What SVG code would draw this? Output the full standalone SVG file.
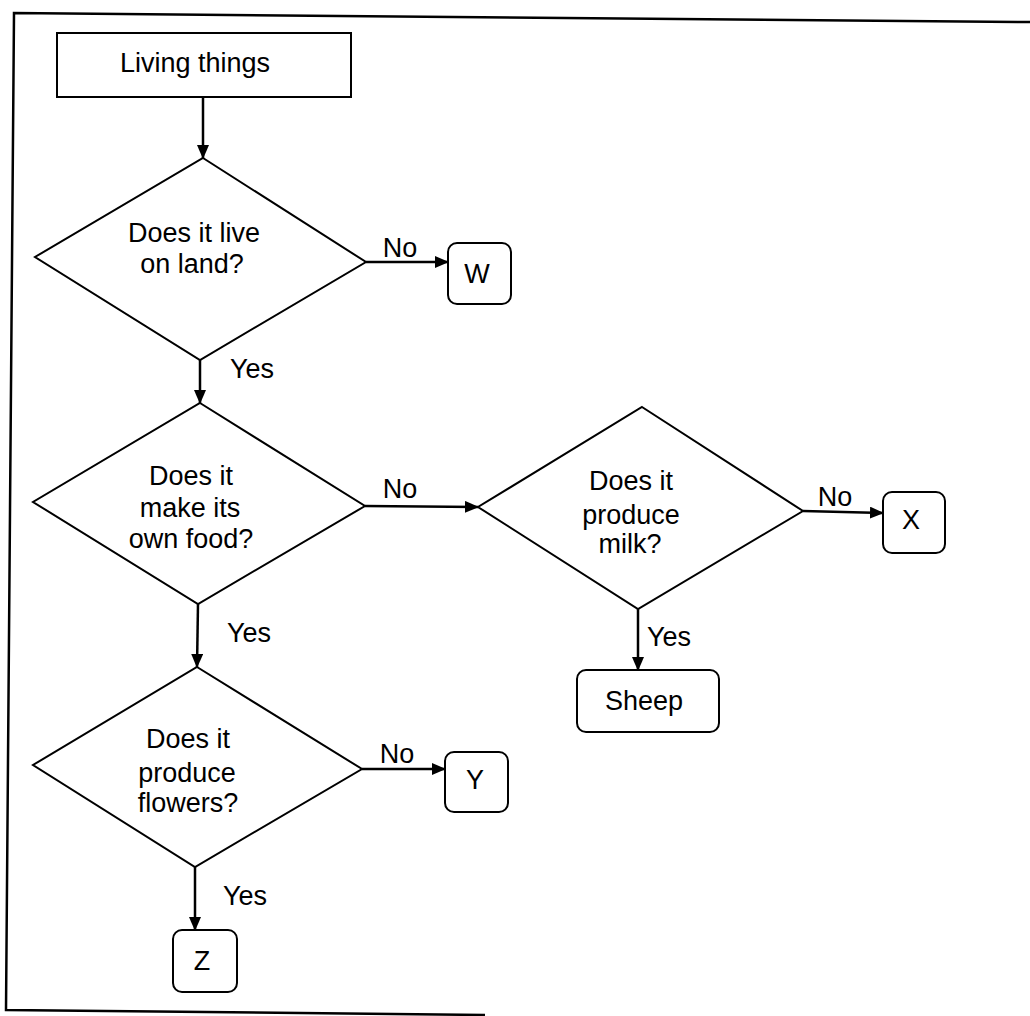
<svg xmlns="http://www.w3.org/2000/svg" width="1030" height="1016" viewBox="0 0 1030 1016">
<defs>
<marker id="arr" markerUnits="userSpaceOnUse" markerWidth="14" markerHeight="12" refX="13" refY="6" orient="auto">
<path d="M0,0 L14,6 L0,12 z" fill="#000"/>
</marker>
<style>
text{font-family:"Liberation Sans",Arial,sans-serif;font-size:27px;fill:#000}
.c{text-anchor:middle}
.shape{fill:#fff;stroke:#000;stroke-width:2}
.conn line{stroke:#000;stroke-width:2.5;marker-end:url(#arr)}
</style>
</defs>
<rect width="1030" height="1016" fill="#fff"/>
<path d="M485,1015 L6,1010 L14,13 L1030,22" fill="none" stroke="#000" stroke-width="2.5"/>
<g id="living">
<rect class="shape" x="57" y="33" width="294" height="64"/>
<text class="c" x="195" y="72">Living things</text>
</g>
<g id="q-land">
<polygon class="shape" points="203,158 366,262 200,360 35,257"/>
<text class="c" x="194" y="242">Does it live</text>
<text class="c" x="192" y="273">on land?</text>
</g>
<g id="w">
<rect class="shape" x="448" y="243" width="63" height="61" rx="9"/>
<text class="c" x="477" y="283">W</text>
</g>
<g id="q-food">
<polygon class="shape" points="200,403 365,506 198,604 33,502"/>
<text class="c" x="191" y="485">Does it</text>
<text class="c" x="190" y="517">make its</text>
<text class="c" x="191" y="548">own food?</text>
</g>
<g id="q-milk">
<polygon class="shape" points="642,407 803,511 638,609 478,507"/>
<text class="c" x="631" y="490">Does it</text>
<text class="c" x="631" y="524">produce</text>
<text class="c" x="630" y="553">milk?</text>
</g>
<g id="x">
<rect class="shape" x="883" y="492" width="62" height="61" rx="9"/>
<text class="c" x="911" y="529">X</text>
</g>
<g id="sheep">
<rect class="shape" x="577" y="670" width="142" height="62" rx="9"/>
<text class="c" x="644" y="710">Sheep</text>
</g>
<g id="q-flowers">
<polygon class="shape" points="197,667 362,769 195,867 33,765"/>
<text class="c" x="188" y="748">Does it</text>
<text class="c" x="187" y="782">produce</text>
<text class="c" x="188" y="812">flowers?</text>
</g>
<g id="y">
<rect class="shape" x="445" y="752" width="63" height="60" rx="9"/>
<text class="c" x="475" y="789">Y</text>
</g>
<g id="z">
<rect class="shape" x="173" y="930" width="64" height="62" rx="9"/>
<text class="c" x="202" y="970">Z</text>
</g>
<g id="connectors" class="conn">
<line x1="203" y1="97" x2="203" y2="158"/>
<line x1="366" y1="262" x2="448" y2="262"/>
<line x1="200" y1="360" x2="200" y2="403"/>
<line x1="365" y1="506" x2="478" y2="507"/>
<line x1="198" y1="604" x2="197" y2="667"/>
<line x1="803" y1="511" x2="883" y2="513"/>
<line x1="638" y1="609" x2="638" y2="670"/>
<line x1="362" y1="769" x2="445" y2="769"/>
<line x1="195" y1="867" x2="195" y2="930"/>
<text class="c" x="400" y="257">No</text>
<text x="230" y="378">Yes</text>
<text class="c" x="400" y="498">No</text>
<text x="227" y="642">Yes</text>
<text class="c" x="835" y="506">No</text>
<text x="647" y="646">Yes</text>
<text class="c" x="397" y="763">No</text>
<text x="223" y="905">Yes</text>
</g>
</svg>
